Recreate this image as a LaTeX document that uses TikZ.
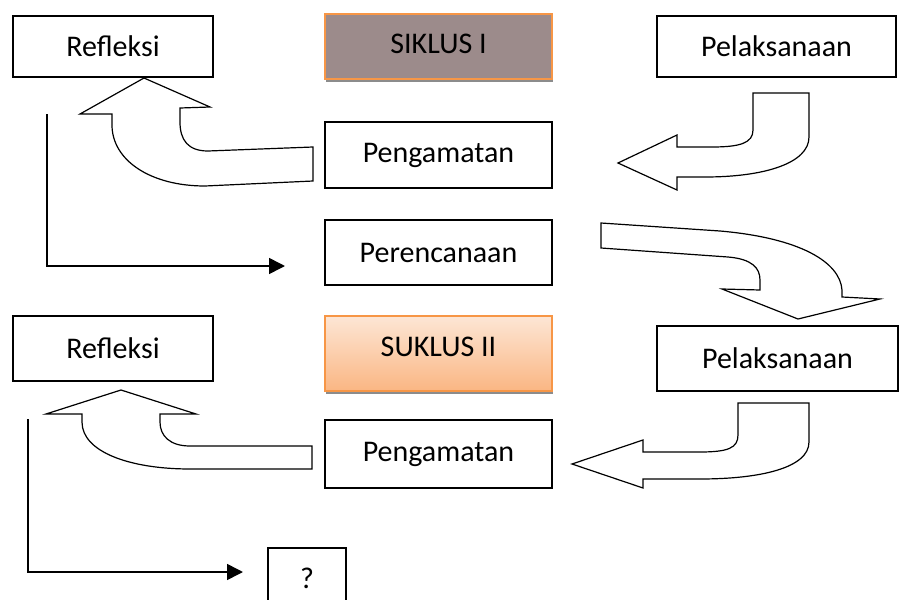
\documentclass[tikz,border=0pt]{standalone}
\usepackage{fontspec}
\setmainfont{Carlito}
\usetikzlibrary{arrows.meta,shadows}
\definecolor{CycleOrange}{HTML}{F79646}
\definecolor{CyclePeach}{HTML}{FDE6D5}
\definecolor{CycleAmber}{HTML}{FAB683}
\definecolor{CycleGray}{HTML}{9C8B8B}

\begin{document}
\begin{tikzpicture}[x=0.5pt,y=-0.5pt,>={Triangle[length=8pt,width=8pt]},
  stagebox/.style={draw,fill=white,line width=0.8pt,
    font=\fontsize{15}{18}\selectfont,inner sep=0pt},
  cyclebox/.style={draw=CycleOrange,line width=0.9pt,
    font=\fontsize{15}{18}\selectfont,inner sep=0pt,
    drop shadow={shadow xshift=0.6pt,shadow yshift=-1.6pt,fill=black!45,opacity=1}},
  bentarrow/.style={draw,fill=white,line width=0.6pt,line join=miter},
  loopline/.style={->,line width=0.8pt}]
  \path[use as bounding box,fill=white] (0,0) rectangle (902,600);
  % siklus I
  \node[stagebox,minimum width=100pt,minimum height=30.5pt] (refl1) at (113,46.5) {Refleksi};
  \node[cyclebox,fill=CycleGray,minimum width=113.5pt,minimum height=32.5pt,
    text depth=3pt] (siklus1) at (438.5,46.5) {SIKLUS I};
  \node[stagebox,minimum width=119.5pt,minimum height=30.5pt] (pel1) at (776.5,46.5) {Pelaksanaan};
  \node[stagebox,minimum width=113.5pt,minimum height=33pt] (peng1) at (438.5,155) {Pengamatan};
  \node[stagebox,minimum width=113.5pt,minimum height=32.5pt] (renc) at (438.5,252.5) {Perencanaan};
  % siklus II
  \node[stagebox,minimum width=100pt,minimum height=32.5pt] (refl2) at (113,348.5) {Refleksi};
  \node[cyclebox,top color=CyclePeach,bottom color=CycleAmber,minimum width=113.5pt,
    minimum height=37.5pt,text depth=6.5pt] (suklus2) at (438.5,353.5) {SUKLUS II};
  \node[stagebox,minimum width=120.5pt,minimum height=32.5pt] (pel2) at (777.5,358.5) {Pelaksanaan};
  \node[stagebox,minimum width=113.5pt,minimum height=34pt] (peng2) at (438.5,454) {Pengamatan};
  \node[stagebox,minimum width=39pt,minimum height=30pt] (next) at (307,578) {?};

  % bent block arrows
  \path[bentarrow] (313,147) -- (208,151) .. controls (188,151) and (180,140) .. (180,122)
    -- (180,108) -- (210,107) -- (144,78) -- (80,114) -- (112,114) -- (112,125)
    .. controls (112,160) and (150,186) .. (205,186) -- (313,181) -- cycle;
  \path[bentarrow] (753,93) -- (809,93) -- (809,137) .. controls (809,163) and (765,177) .. (705,177)
    -- (677,177) -- (677,190) -- (618,163) -- (677,135) -- (677,147) -- (712,147)
    .. controls (740,147) and (753,143) .. (753,130) -- cycle;
  \path[bentarrow] (601,223) -- (601,248) -- (728,257) .. controls (752,259) and (760,268) .. (760,280)
    -- (760,290) -- (722,289) -- (798,319) -- (880,299) -- (842,297) -- (842,290)
    .. controls (840,262) and (800,238) .. (720,231) -- cycle;
  \path[bentarrow] (738,403) -- (809,403) -- (809,442) .. controls (809,468) and (760,479) .. (700,479)
    -- (643,479) -- (643,488) -- (572,464) -- (643,440) -- (643,452) -- (700,452)
    .. controls (728,452) and (738,448) .. (738,435) -- cycle;
  \path[bentarrow] (312,446) -- (190,446) .. controls (170,446) and (160,436) .. (160,422)
    -- (160,414) -- (196,414) -- (121,390) -- (46,414) -- (82,414) -- (82,422)
    .. controls (82,452) and (130,469) .. (190,469) -- (312,469) -- cycle;

  % back to the next cycle
  \coordinate (refl1drop) at (47,114);
  \coordinate (rencin) at (285,266);
  \draw[loopline] (refl1drop) |- (rencin);
  \coordinate (refl2drop) at (28,419);
  \coordinate (nextin) at (243,572);
  \draw[loopline] (refl2drop) |- (nextin);
\end{tikzpicture}
\end{document}
